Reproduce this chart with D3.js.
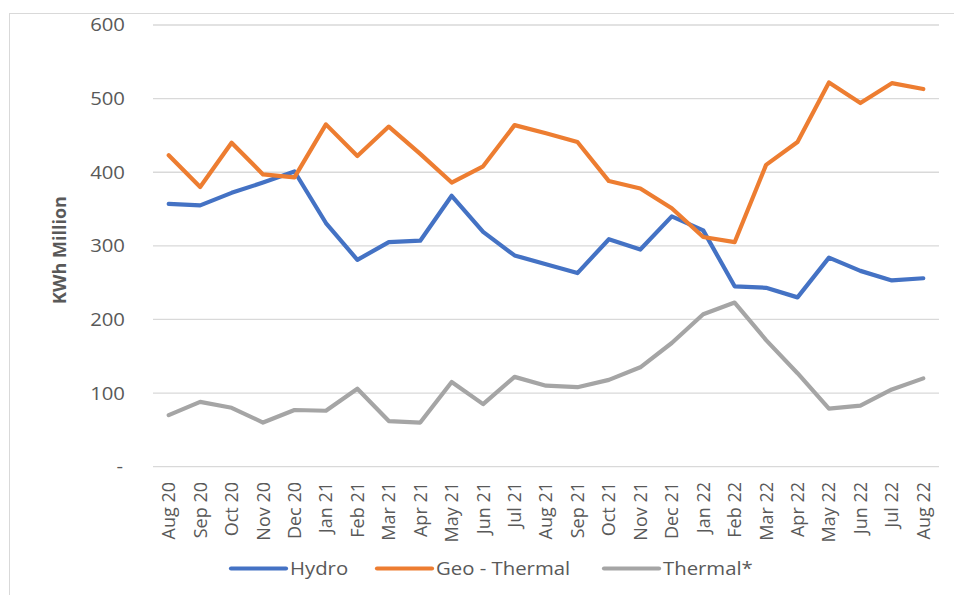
<!DOCTYPE html>
<html>
<head>
<meta charset="utf-8">
<script src="https://cdn.jsdelivr.net/npm/d3@7"></script>
<style>
html,body{margin:0;padding:0;background:#fff;}
svg{display:block;}
</style>
</head>
<body>
<svg id="chart" width="954" height="595"></svg>
<script>
const months = ["Aug 20","Sep 20","Oct 20","Nov 20","Dec 20","Jan 21","Feb 21","Mar 21","Apr 21","May 21","Jun 21","Jul 21","Aug 21","Sep 21","Oct 21","Nov 21","Dec 21","Jan 22","Feb 22","Mar 22","Apr 22","May 22","Jun 22","Jul 22","Aug 22"];
const hydro = [357,355,372,386,401,331,281,305,307,368,319,287,275,263,309,295,340,321,245,243,230,284,266,253,256];
const geoThermal = [423,380,440,397,393,465,422,462,425,386,408,464,453,441,388,378,351,312,305,410,441,522,494,521,513];
const thermal = [70,88,80,60,77,76,106,62,60,115,85,122,110,108,118,135,168,207,223,172,127,79,83,105,120];
const yTicks = [0,100,200,300,400,500,600];
const seriesNames = ["Hydro","Geo - Thermal","Thermal*"];
const seriesColors = ["#4472C4","#ED7D31","#A5A5A5"];
const seriesData = [hydro, geoThermal, thermal];

(function(){
const svg = d3.select("#chart");
const FONT = "'Open Sans', sans-serif";
const textColor = "#595959";
const pLeft = 153, pRight = 939, pTop = 25, pBottom = 466.7;

// frame (left & top edges visible)
svg.append("line").attr("x1",9.5).attr("x2",9.5).attr("y1",13).attr("y2",595).attr("stroke","#d9d9d9").attr("stroke-width",1);
svg.append("line").attr("x1",9).attr("x2",954).attr("y1",13.5).attr("y2",13.5).attr("stroke","#d9d9d9").attr("stroke-width",1);

const x = d3.scalePoint().domain(months).range([pLeft, pRight]).padding(0.5);
const y = d3.scaleLinear().domain([0,600]).range([pBottom, pTop]);

// gridlines
svg.append("g").selectAll("line").data(yTicks).join("line")
  .attr("x1", pLeft).attr("x2", pRight)
  .attr("y1", d => y(d)).attr("y2", d => y(d))
  .attr("stroke", "#d9d9d9").attr("stroke-width", 1.3);

// y tick labels
svg.append("g").selectAll("text").data(yTicks).join("text")
  .attr("transform", d => `translate(${d===0?123:125},${y(d)}) scale(1.13,1)`)
  .attr("text-anchor","end").attr("dy","0.36em")
  .attr("font-family",FONT).attr("font-size",18).attr("fill",textColor)
  .text(d => d===0 ? "-" : d);

// y axis title
svg.append("text")
  .attr("transform","translate(66,250) rotate(-90)")
  .attr("text-anchor","middle")
  .attr("font-family",FONT).attr("font-size",18).attr("font-weight","bold").attr("fill",textColor)
  .text("KWh Million");

// x labels
svg.append("g").selectAll("text").data(months).join("text")
  .attr("transform", d => `translate(${x(d)},482) rotate(-90)`)
  .attr("text-anchor","end").attr("dy","0.36em")
  .attr("font-family",FONT).attr("font-size",18).attr("fill",textColor)
  .text(d => d);

// lines
const line = d3.line().x((d,i) => x(months[i])).y(d => y(d));
seriesData.forEach((vals, k) => {
  svg.append("path").datum(vals)
    .attr("d", line)
    .attr("fill","none")
    .attr("stroke", seriesColors[k])
    .attr("stroke-width", 4.2)
    .attr("stroke-linejoin","round")
    .attr("stroke-linecap","round");
});

// legend
const legendX = [231, 377, 604];
const legY = 568.5;
const lg = svg.append("g").selectAll("g").data(seriesNames).join("g")
  .attr("transform", (d,i) => `translate(${legendX[i]},${legY})`);
lg.append("line").attr("x1",0).attr("x2",55).attr("y1",0).attr("y2",0)
  .attr("stroke",(d,i)=>seriesColors[i]).attr("stroke-width",4.2).attr("stroke-linecap","round");
lg.append("text")
  .attr("transform","translate(59,0) scale(1.13,1)")
  .attr("dy","0.36em")
  .attr("font-family",FONT).attr("font-size",18).attr("fill",textColor)
  .text(d => d);
})();
</script>
</body>
</html>
